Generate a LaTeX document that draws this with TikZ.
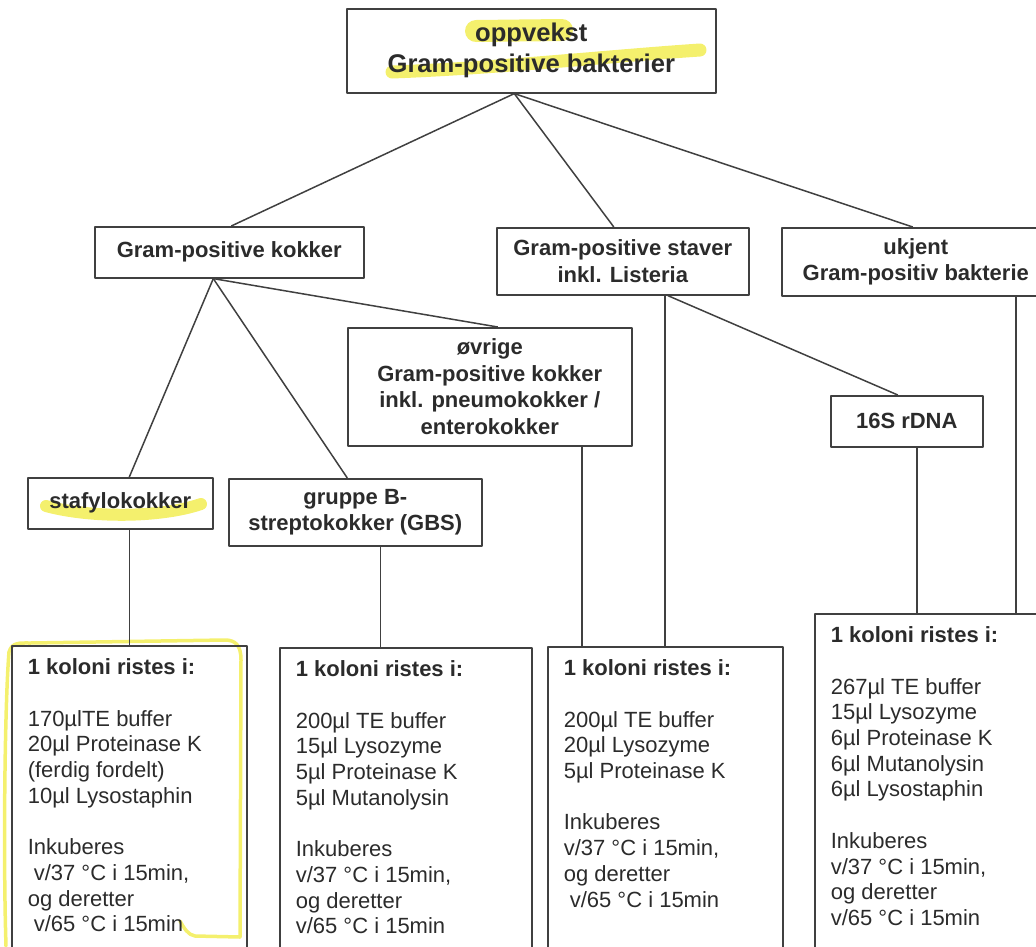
\documentclass[tikz,border=0pt]{standalone}
\usepackage{fontspec}
\setmainfont{Liberation Sans}
\definecolor{linecol}{rgb}{0.25,0.25,0.25}
\definecolor{textcol}{rgb}{0.17,0.17,0.17}
\definecolor{markcol}{rgb}{0.95,0.93,0.33}
\begin{document}
\begin{tikzpicture}[x=1pt,y=-1pt,line join=bevel,
  hdbox/.style={draw=linecol,line width=1.6pt,rectangle,anchor=north west,align=center,text=textcol,inner sep=0pt,font=\fontsize{22}{26.6}\selectfont\bfseries},
  kolbox/.style={draw=linecol,line width=1.6pt,rectangle,anchor=north west,text=textcol,inner xsep=16pt,inner ysep=13pt,font=\fontsize{22}{25.7}\selectfont},
  link/.style={draw=linecol,line width=1.5pt},
  marker/.style={draw=markcol,line cap=round,line join=round,opacity=0.85}]
%%
\useasboundingbox (0,0) rectangle (1036,946);
\clip (0,0) rectangle (1036,946);
%% yellow marker
  \draw [marker,line width=22pt] (476,31) -- (562,30);
  \draw [marker,line width=13pt] (392,72) .. controls (500,68) and (610,56) .. (700,50);
  \draw [marker,line width=12pt] (46,506) .. controls (90,518) and (160,518) .. (201,504);
  \draw [marker,line width=3.5pt] (6,946) .. controls (3,850) and (5,700) .. (9,652) .. controls (12,642) and (20,643) .. (30,643) -- (225,640) .. controls (236,640) and (241,646) .. (241,660) -- (240,937) -- (195,936) .. controls (188,935) and (184,928) .. (180,921);
%% boxes
  \node (top) at (346,8) [hdbox,minimum width=369pt,minimum height=84pt,font=\fontsize{25.6}{31}\selectfont\bfseries] {oppvekst\\Gram-positive bakterier};
  \node (kokker) at (94,226) [hdbox,minimum width=269pt,minimum height=51pt] {Gram-positive kokker};
  \node (staver) at (496,227) [hdbox,minimum width=252pt,minimum height=67pt] {Gram-positive staver\\inkl. Listeria};
  \node (ukjent) at (781,227) [hdbox,minimum width=268pt,minimum height=68pt] {ukjent\\Gram-positiv bakterie};
  \node (ovrige) at (347,327) [hdbox,minimum width=284pt,minimum height=118pt] {øvrige\\Gram-positive kokker\\inkl. pneumokokker /\\enterokokker};
  \node (rdna) at (830,395) [hdbox,minimum width=152pt,minimum height=51pt] {16S rDNA};
  \node (stafylo) at (27,477) [hdbox,minimum width=185pt,minimum height=51pt] {stafylokokker};
  \node (gbs) at (228,478) [hdbox,minimum width=253pt,minimum height=67pt] {gruppe B-\\streptokokker (GBS)};
  \node (kol1) at (11,645) [kolbox] {\parbox[c][300pt][t]{203pt}{\raggedright\textbf{1 koloni ristes i:}\\[25.7pt]
    170µlTE buffer\\ 20µl Proteinase K\\ (ferdig fordelt)\\ 10µl Lysostaphin\\[25.7pt]
    Inkuberes\\ \hspace*{6pt}v/37 °C i 15min,\\ og deretter\\ \hspace*{6pt}v/65 °C i 15min}};
  \node (kol2) at (279,647) [kolbox] {\parbox[c][300pt][t]{220pt}{\raggedright\textbf{1 koloni ristes i:}\\[25.7pt]
    200µl TE buffer\\ 15µl Lysozyme\\ 5µl Proteinase K\\ 5µl Mutanolysin\\[25.7pt]
    Inkuberes\\ v/37 °C i 15min,\\ og deretter\\ v/65 °C i 15min}};
  \node (kol3) at (547,646) [kolbox] {\parbox[c][300pt][t]{203pt}{\raggedright\textbf{1 koloni ristes i:}\\[25.7pt]
    200µl TE buffer\\ 20µl Lysozyme\\ 5µl Proteinase K\\[25.7pt]
    Inkuberes\\ v/37 °C i 15min,\\ og deretter\\ \hspace*{6pt}v/65 °C i 15min}};
  \node (kol4) at (814,613) [kolbox] {\parbox[c][330pt][t]{218pt}{\raggedright\textbf{1 koloni ristes i:}\\[25.7pt]
    267µl TE buffer\\ 15µl Lysozyme\\ 6µl Proteinase K\\ 6µl Mutanolysin\\ 6µl Lysostaphin\\[25.7pt]
    Inkuberes\\ v/37 °C i 15min,\\ og deretter\\ v/65 °C i 15min}};
%% connectors
  \draw [link] ([xshift=-17pt]top.south) -- ([xshift=2pt]kokker.north);
  \draw [link] ([xshift=-17pt]top.south) -- ([xshift=-9pt]staver.north);
  \draw [link] ([xshift=-17pt]top.south) -- ([xshift=-3pt]ukjent.north);
  \draw [link] ([xshift=-16pt]kokker.south) -- ([xshift=9pt]stafylo.north);
  \draw [link] ([xshift=-16pt]kokker.south) -- ([xshift=-8pt]gbs.north);
  \draw [link] ([xshift=-16pt]kokker.south) -- ([xshift=8pt]ovrige.north);
  \draw [link] ([xshift=45pt]staver.south) -- ([xshift=-9pt]rdna.north);
  \draw [link] ([xshift=42pt]staver.south) coordinate (sv) -- (sv |- kol3.north);
  \draw [link] ([xshift=92pt]ovrige.south) coordinate (ov) -- (ov |- kol3.north);
  \draw [link] ([xshift=100pt]ukjent.south) coordinate (uk) -- (uk |- kol4.north);
  \draw [link] ([xshift=10pt]rdna.south) coordinate (rd) -- (rd |- kol4.north);
  \draw [link] ([xshift=9pt]stafylo.south) coordinate (st) -- (st |- kol1.north);
  \draw [link] ([xshift=25pt]gbs.south) coordinate (gb) -- (gb |- kol2.north);
%
\end{tikzpicture}
\end{document}
